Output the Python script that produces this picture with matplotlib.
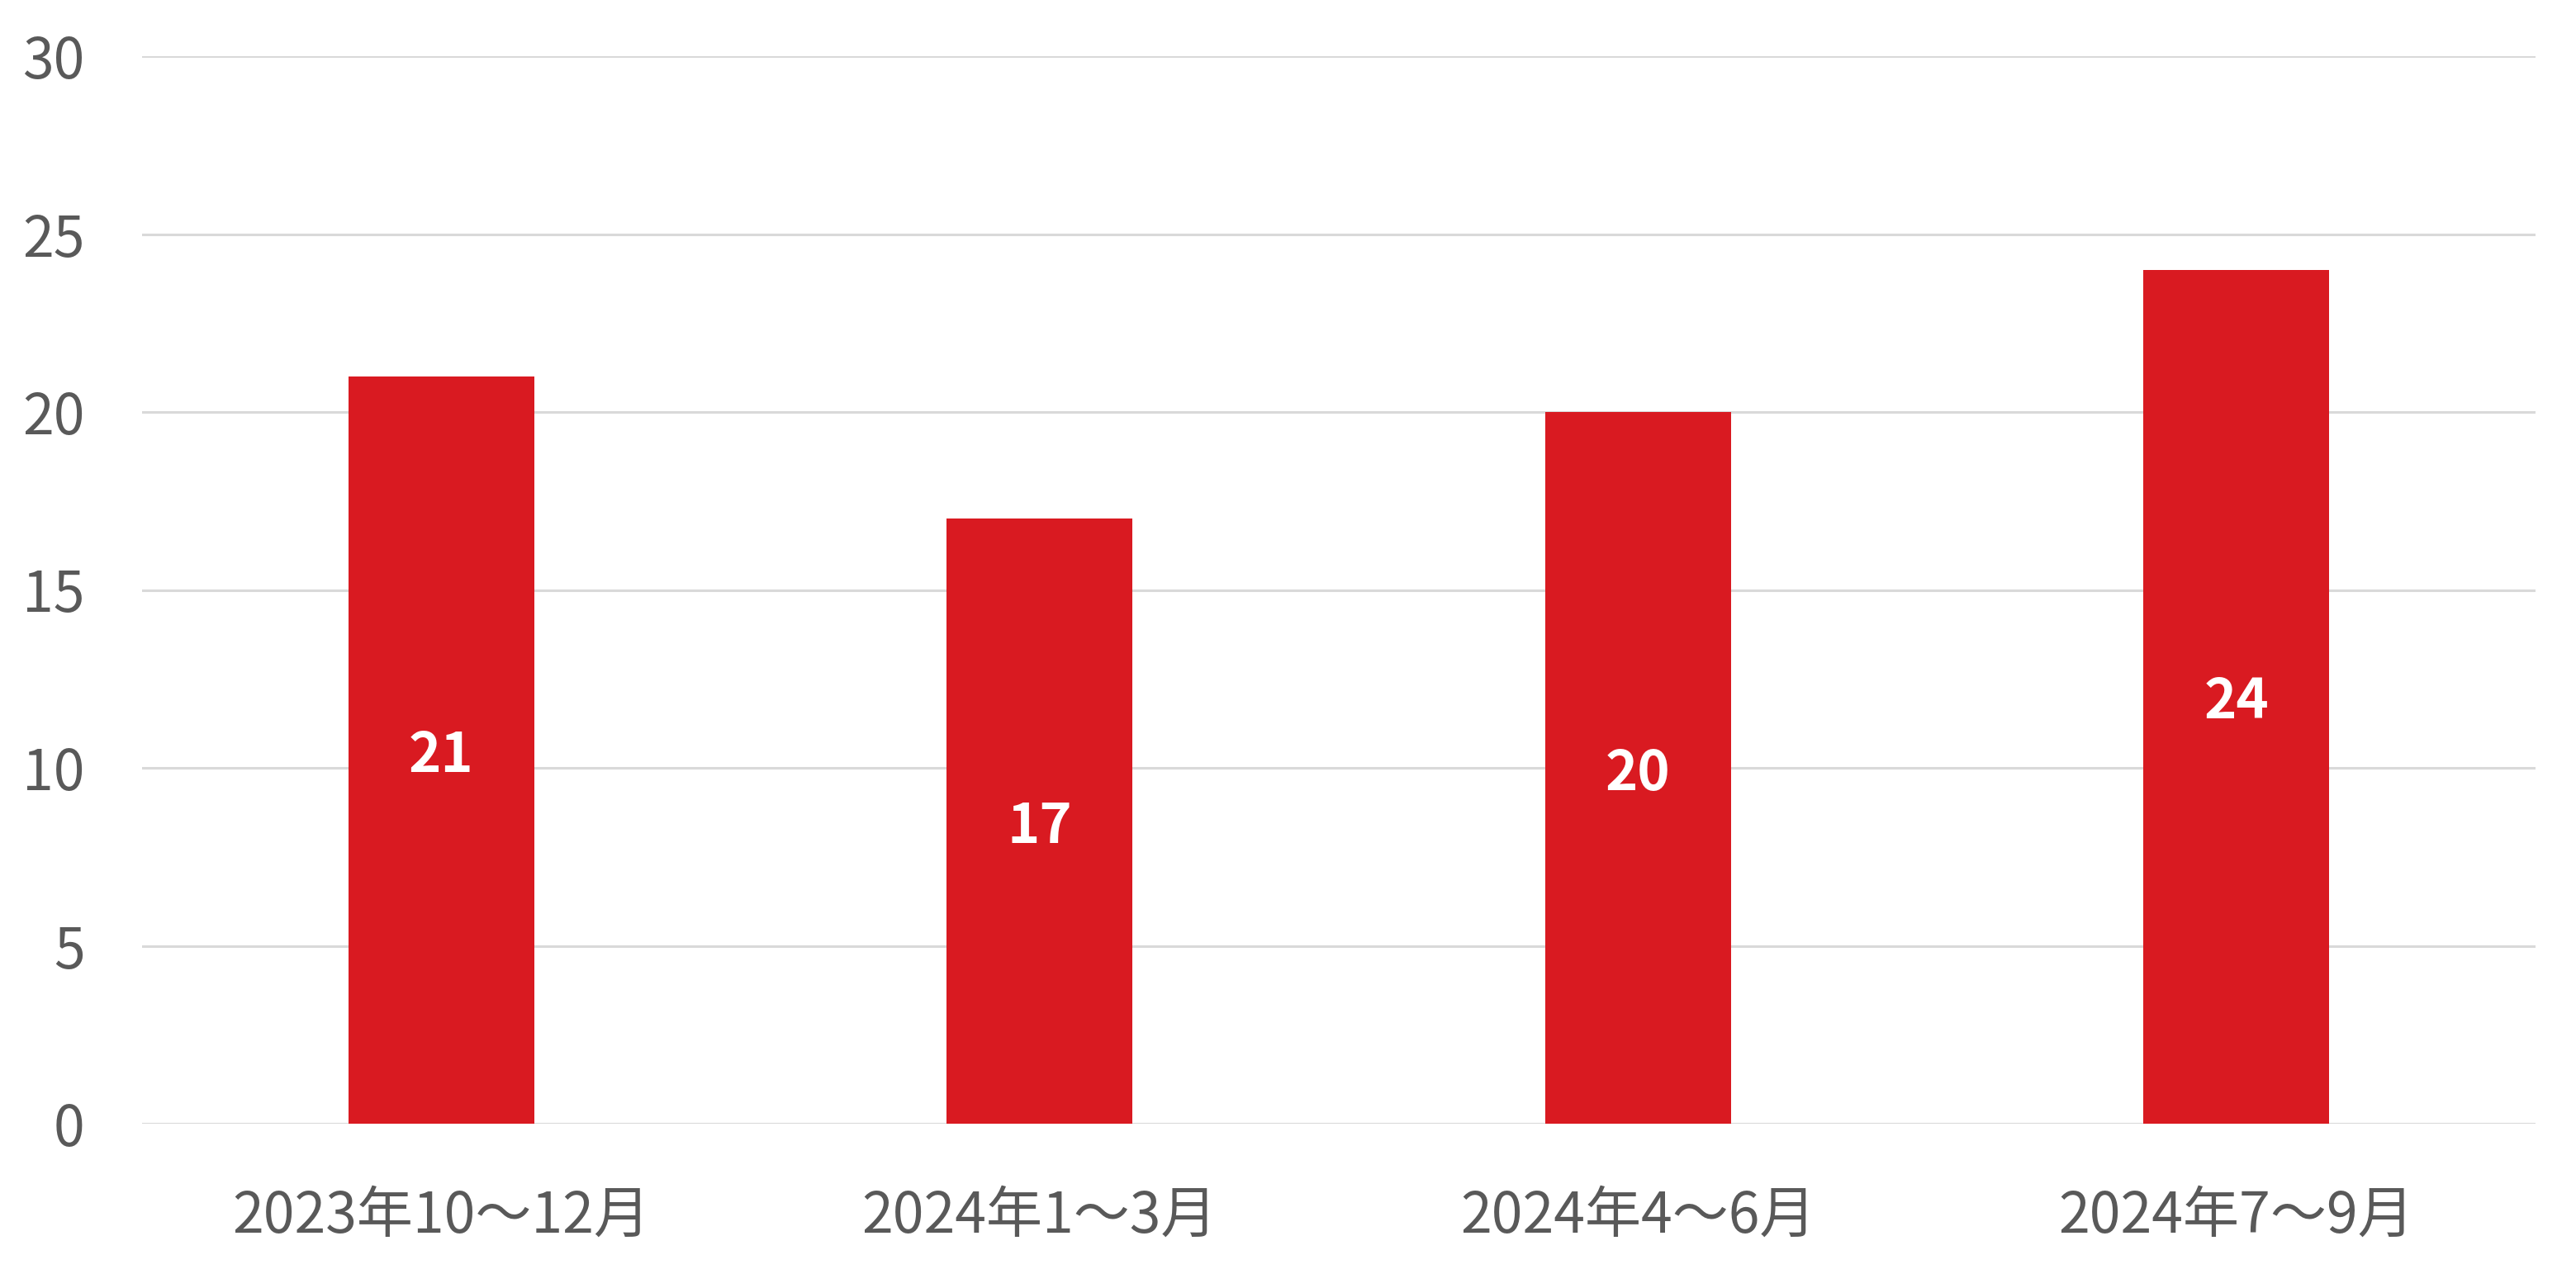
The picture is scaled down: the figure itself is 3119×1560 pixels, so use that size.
import matplotlib
matplotlib.use("Agg")
import matplotlib.pyplot as plt
import numpy as np

plt.rcParams['font.family'] = ['Noto Sans CJK JP', 'DejaVu Sans']

# data
categories = ['2023年10～12月', '2024年1～3月', '2024年4～6月', '2024年7～9月']
values = [21, 17, 20, 24]
yticks = [0, 5, 10, 15, 20, 25, 30]

bar_color = '#D91A21'
text_gray = '#595959'
grid_gray = '#D9D9D9'

fig = plt.figure(figsize=(15.595, 7.8), dpi=200)
ax = fig.add_axes([172/3119, 1 - 1361/1560, (3070 - 172)/3119, (1361 - 68)/1560])

x = np.arange(len(categories))
bars = ax.bar(x, values, width=0.31, color=bar_color, zorder=3)

for b, v in zip(bars, values):
    ax.text(b.get_x() + b.get_width()/2, v/2, str(v), ha='center', va='center_baseline',
            color='white', fontsize=24, fontweight='bold', zorder=4)

ax.set_xlim(-0.5, len(categories) - 0.5)
ax.set_ylim(0, 30)
ax.set_yticks(yticks)
ax.set_xticks(x)
ax.set_xticklabels(categories)
ax.tick_params(axis='both', length=0, labelsize=24.5, colors=text_gray)
ax.tick_params(axis='y', pad=25)
ax.tick_params(axis='x', pad=28)
ax.yaxis.grid(True, color=grid_gray, linewidth=1.1, zorder=0)
ax.set_axisbelow(True)
for s in ax.spines.values():
    s.set_visible(False)

fig.savefig('out.png', dpi=200, facecolor='white')
